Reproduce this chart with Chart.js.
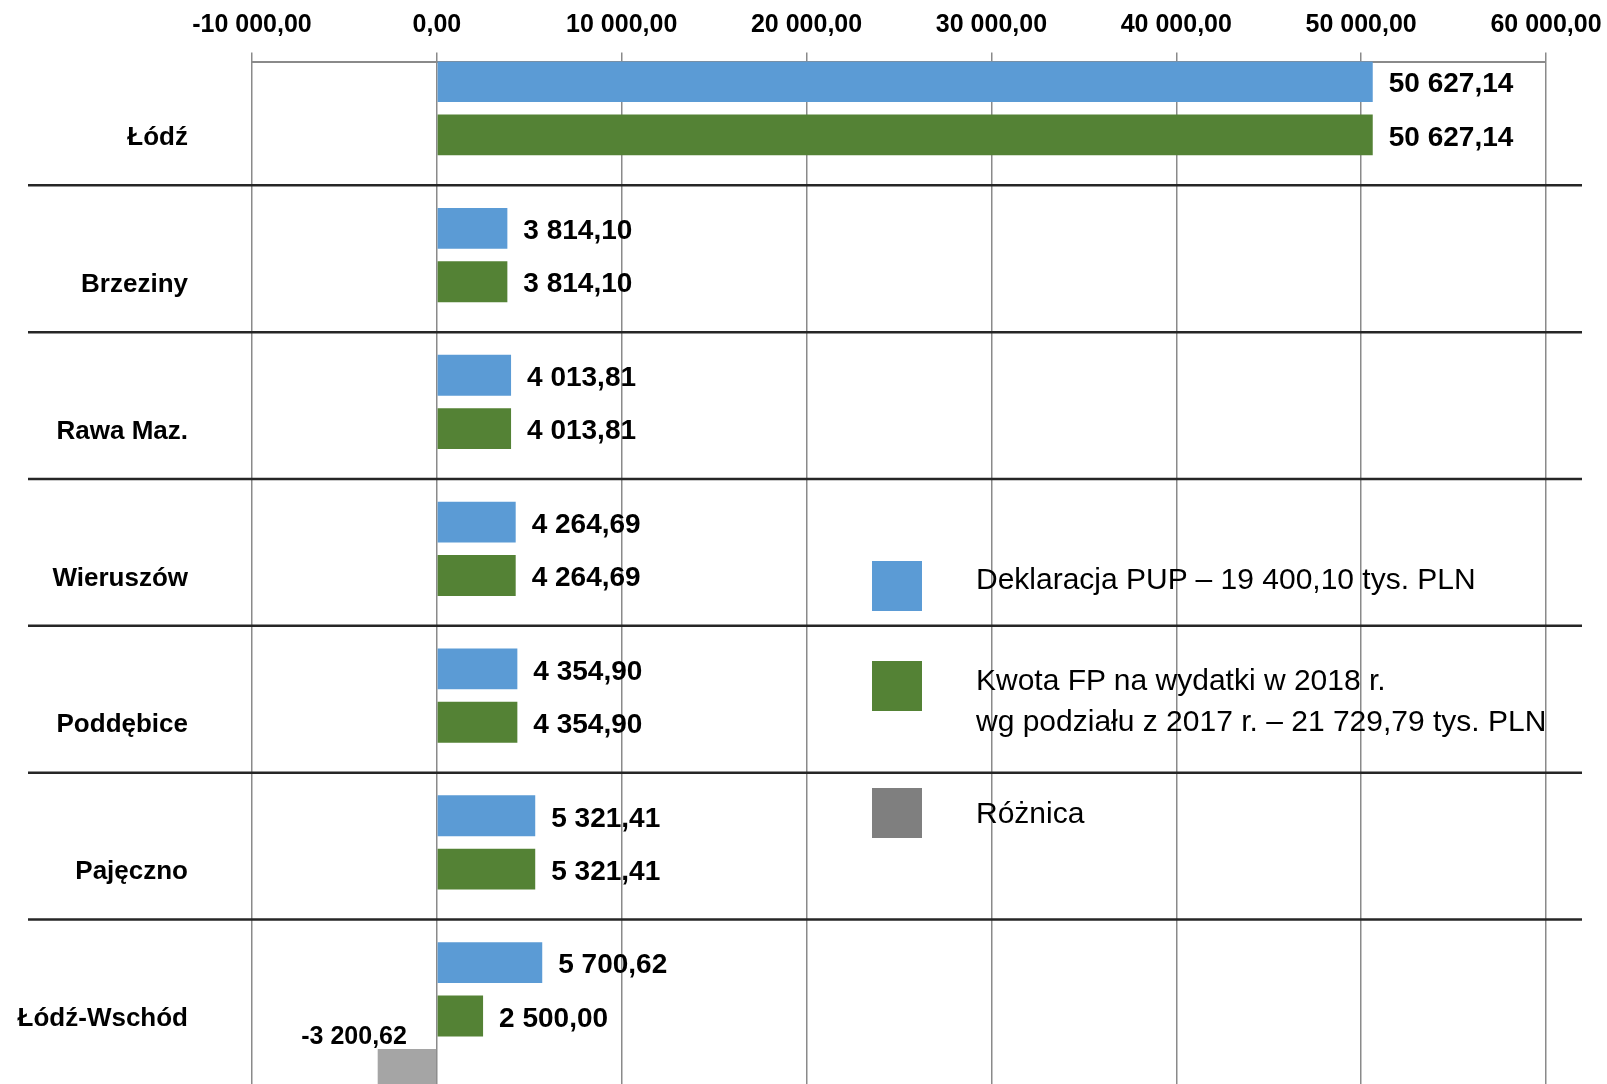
<!DOCTYPE html>
<html>
<head>
<meta charset="utf-8">
<script src="https://cdn.jsdelivr.net/npm/chart.js@4.4.1/dist/chart.umd.min.js"></script>
<style>
html, body { margin: 0; padding: 0; background: #fff; overflow: hidden; }
#wrap { position: relative; width: 1607px; height: 1105px; }
#chart { display: block; }
.lg { position: absolute; font-family: 'Liberation Sans', sans-serif; font-size: 30px; color: #000; line-height: 41px; white-space: nowrap; }
.sw { position: absolute; width: 50px; height: 50px; }
</style>
</head>
<body>
<div id="wrap">
  <canvas id="chart" width="1607" height="1105"></canvas>
  <!-- legend sits inside the plot area, over the grid -->
  <div class="sw" style="left:872px; top:561px; background:#5b9bd5"></div>
  <div class="lg" style="left:976px; top:558px">Deklaracja PUP – 19 400,10 tys. PLN</div>
  <div class="sw" style="left:872px; top:661px; background:#548235"></div>
  <div class="lg" style="left:976px; top:659px">Kwota FP na wydatki w 2018 r.<br>wg podziału z 2017 r. – 21 729,79 tys. PLN</div>
  <div class="sw" style="left:872px; top:788px; background:#7f7f7f"></div>
  <div class="lg" style="left:976px; top:792px">Różnica</div>
</div>
<script>
// data
const categories = ['Łódź', 'Brzeziny', 'Rawa Maz.', 'Wieruszów', 'Poddębice', 'Pajęczno', 'Łódź-Wschód'];
const deklaracja = [50627.14, 3814.10, 4013.81, 4264.69, 4354.90, 5321.41, 5700.62];
const kwotaFP = [50627.14, 3814.10, 4013.81, 4264.69, 4354.90, 5321.41, 2500.00];
const roznica = [0, 0, 0, 0, 0, 0, -3200.62];
const xMin = -10000;
const xMax = 60000;
const xStep = 10000;

const FONT = "'Liberation Sans', sans-serif";

function fmt(v) {
    const neg = v < 0;
    let [i, d] = Math.abs(v).toFixed(2).split('.');
    i = i.replace(/\B(?=(\d{3})+(?!\d))/g, ' ');
    return (neg ? '-' : '') + i + ',' + d;
}

// value labels next to each bar
const valueLabels = {
    id: 'valueLabels',
    afterDatasetsDraw(chart) {
        const ctx = chart.ctx;
        ctx.save();
        ctx.fillStyle = '#000';
        ctx.textBaseline = 'middle';
        chart.data.datasets.forEach((ds, di) => {
            const meta = chart.getDatasetMeta(di);
            meta.data.forEach((bar, i) => {
                const v = ds.data[i];
                if (!v) return;
                if (v > 0) {
                    ctx.font = 'bold 28px ' + FONT;
                    ctx.textAlign = 'left';
                    ctx.fillText(fmt(v), bar.x + 16, bar.y + 3);
                } else {
                    ctx.font = 'bold 25px ' + FONT;
                    ctx.textAlign = 'right';
                    ctx.fillText(fmt(v), (bar.x + bar.base) / 2, bar.y - bar.height / 2 - 12);
                }
            });
        });
        ctx.restore();
    }
};

// dark separators between the category rows
const separators = {
    id: 'separators',
    beforeDatasetsDraw(chart) {
        const y = chart.scales.y;
        const ctx = chart.ctx;
        const step = y.getPixelForValue(1) - y.getPixelForValue(0);
        ctx.save();
        ctx.strokeStyle = '#262626';
        ctx.lineWidth = 2.5;
        for (let i = 0; i < categories.length - 1; i++) {
            const py = y.getPixelForValue(i) + step * 0.5 - step * 0.157;
            ctx.beginPath();
            ctx.moveTo(28, py);
            ctx.lineTo(chart.chartArea.right + 36, py);
            ctx.stroke();
        }
        ctx.restore();
    }
};

const barOpts = { categoryPercentage: 1.09, barPercentage: 0.766 };

new Chart(document.getElementById('chart'), {
    type: 'bar',
    data: {
        labels: categories,
        datasets: [
            { label: 'Deklaracja PUP', data: deklaracja, backgroundColor: '#5b9bd5', ...barOpts },
            { label: 'Kwota FP', data: kwotaFP, backgroundColor: '#548235', ...barOpts },
            { label: 'Różnica', data: roznica, backgroundColor: '#a5a5a5', ...barOpts }
        ]
    },
    options: {
        indexAxis: 'y',
        responsive: false,
        animation: false,
        layout: { padding: { top: 6, right: 61, bottom: 0, left: 0 } },
        plugins: {
            legend: { display: false },
            tooltip: { enabled: false }
        },
        scales: {
            x: {
                position: 'top',
                min: xMin,
                max: xMax,
                afterFit(scale) { scale.height = 55.5; },
                ticks: {
                    stepSize: xStep,
                    padding: 0,
                    maxRotation: 0,
                    color: '#000',
                    font: { family: FONT, size: 25, weight: 'bold', lineHeight: 2.16 },
                    callback: (v) => fmt(v)
                },
                grid: { color: '#8a8a8a', lineWidth: 1.5, tickLength: 9 },
                border: { color: '#8a8a8a', width: 2 }
            },
            y: {
                afterFit(scale) { scale.width = 252; },
                ticks: {
                    padding: 0,
                    labelOffset: 3,
                    color: '#000',
                    font: { family: FONT, size: 26, weight: 'bold' }
                },
                grid: { display: false, drawTicks: true, tickLength: 64 },
                border: { display: false }
            }
        }
    },
    plugins: [separators, valueLabels]
});
</script>
</body>
</html>
